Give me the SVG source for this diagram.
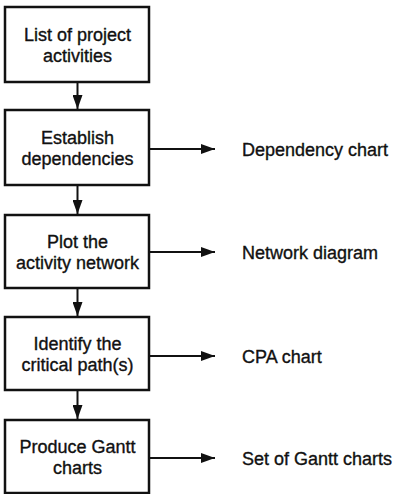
<svg xmlns="http://www.w3.org/2000/svg" width="394" height="494" viewBox="0 0 394 494">
<style>
.box{fill:#fff;stroke:#111;stroke-width:2.5}
.t{font-family:"Liberation Sans",Arial,sans-serif;font-size:18px;fill:#111;stroke:#111;stroke-width:0.35}
.c{text-anchor:middle}
.ln{stroke:#111;stroke-width:2;fill:none}
</style>
<defs>
<marker id="ah" markerWidth="14" markerHeight="10" refX="14" refY="5" orient="auto" markerUnits="userSpaceOnUse">
<path d="M0,0 L14,5 L0,10 Z" fill="#111"/>
</marker>
</defs>
<rect width="394" height="494" fill="#fff"/>
<g id="connectors">
<line class="ln" x1="77.5" y1="82" x2="77.5" y2="109" marker-end="url(#ah)"/>
<line class="ln" x1="77.5" y1="185" x2="77.5" y2="214" marker-end="url(#ah)"/>
<line class="ln" x1="77.5" y1="288" x2="77.5" y2="316" marker-end="url(#ah)"/>
<line class="ln" x1="77.5" y1="390" x2="77.5" y2="419" marker-end="url(#ah)"/>
<line class="ln" x1="150" y1="149" x2="215" y2="149" marker-end="url(#ah)"/>
<line class="ln" x1="150" y1="252" x2="215" y2="252" marker-end="url(#ah)"/>
<line class="ln" x1="150" y1="356" x2="215" y2="356" marker-end="url(#ah)"/>
<line class="ln" x1="150" y1="458" x2="215" y2="458" marker-end="url(#ah)"/>
</g>
<g id="n1"><rect class="box" x="5" y="7" width="144" height="75"/>
<text class="t c" x="77.5" y="40.5">List of project</text><text class="t c" x="77.5" y="61.5">activities</text></g>
<g id="n2"><rect class="box" x="5" y="110" width="144" height="75"/>
<text class="t c" x="77.5" y="143.5">Establish</text><text class="t c" x="77.5" y="164.5">dependencies</text></g>
<g id="n3"><rect class="box" x="5" y="215" width="144" height="73"/>
<text class="t c" x="77.5" y="247.5">Plot the</text><text class="t c" x="77.5" y="268.5">activity network</text></g>
<g id="n4"><rect class="box" x="5" y="317" width="144" height="73"/>
<text class="t c" x="77.5" y="349.5">Identify the</text><text class="t c" x="77.5" y="370.5">critical path(s)</text></g>
<g id="n5"><rect class="box" x="5" y="420" width="144" height="73"/>
<text class="t c" x="77.5" y="452.5">Produce Gantt</text><text class="t c" x="77.5" y="473.5">charts</text></g>
<g id="o1"><text class="t" x="242" y="155.5">Dependency chart</text></g>
<g id="o2"><text class="t" x="242" y="258.5">Network diagram</text></g>
<g id="o3"><text class="t" x="242" y="362.5">CPA chart</text></g>
<g id="o4"><text class="t" x="242" y="464.5">Set of Gantt charts</text></g>
</svg>
